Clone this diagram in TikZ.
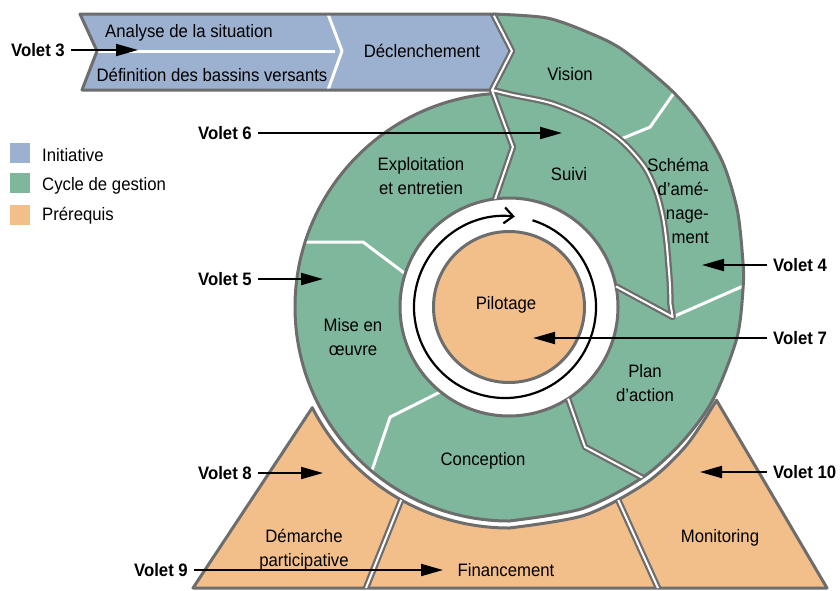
\documentclass[tikz,border=0pt]{standalone}
\usepackage{fontspec}
\setmainfont{Liberation Sans}[FakeStretch=0.93]
\usetikzlibrary{arrows.meta}
\definecolor{cblue}{HTML}{9CB0D0}
\definecolor{cgreen}{HTML}{7FB79D}
\definecolor{corange}{HTML}{F2BF8B}
\definecolor{cgray}{HTML}{6D6D6D}
\begin{document}
\begin{tikzpicture}[x=1pt, y=-1pt,
  ring/.style={shift={(509,307)}, x=1pt, y=1pt},
  lbl/.style={font=\fontsize{18}{24}\selectfont, inner sep=0pt, text height=13pt, text depth=4pt},
  lblm/.style={font=\fontsize{18}{24}\selectfont, inner sep=0pt, align=center},
  vol/.style={font=\fontsize{18}{24}\selectfont\bfseries, inner xsep=6pt, inner ysep=0pt, text height=13pt, text depth=0pt},
  ptr/.style={line width=2pt, -{Triangle[length=22pt,width=12pt]}},
  bord/.style={draw=cgray, line width=3pt, line join=round},
  dbl/.style={draw=cgray, line width=6.5pt, line join=round},
  dblcore/.style={draw=white, line width=2pt, line join=round},
  wsep/.style={draw=white, line width=3pt, line join=round},
  legbox/.style={minimum size=20pt, inner sep=0pt},
]
\useasboundingbox (0,0) rectangle (840,590);
\coordinate (T0) at (493,14);
\coordinate (P0) at (512,51);
\coordinate (B0) at (492,90);

% ---------- prerequisites (bottom) ----------
\begin{scope}[ring]
  \fill[corange] (-152.9:221) -- (-316,-281) -- (318,-281) -- (-24.2:227.5)
    -- plot[smooth] coordinates {(-24.2:227.5) (-38:225) (-52:223) (-70:221.5) (-90:221)}
    arc[start angle=-90, end angle=-152.9, radius=221] -- cycle;
  \draw[dbl] (-119.2:221) -- (-143,-281);
  \draw[dbl] (-60.5:221.8) -- (149,-281);
  \draw[bord] (-152.9:221) -- (-316,-281) -- (318,-281) -- (-24.2:227.5)
    -- plot[smooth] coordinates {(-24.2:227.5) (-38:225) (-52:223) (-70:221.5) (-90:221)}
    arc[start angle=-90, end angle=-152.9, radius=221] -- cycle;
  \draw[dblcore] (-119.2:221) -- (-143,-281);
  \draw[dblcore] (-60.5:221.8) -- (149,-281);
\end{scope}

% ---------- initiative band ----------
\fill[cblue] (80,14) -- (T0) -- (P0) -- (B0) -- (82,90) -- (97,51) -- cycle;

% ---------- management cycle ----------
\begin{scope}[ring]
  \fill[cgreen, even odd rule] (T0) -- plot[smooth] coordinates {(93.1:293.4) (82.5:291.5) (73.4:285.5) (66:281) (53.4:271) (43.9:265) (34:258) (23:248) (11.4:238.5) (4.9:235) (-7.7:230) (-24.5:224) (-38:219.5) (-52:216.5) (-70:214.5) (-90:214)}
    arc[start angle=-90, end angle=-265.5, radius=214] -- (B0) -- (P0) -- cycle
    (0,0) circle[radius=109];
  \fill[corange] (0,0) circle[radius=75.5];
  % white separators inside bands
  \draw[wsep] (57.1:198) -- (51.9:228.6) -- (52.4:272);
  \draw[wsep] (-3.5:164) -- (5.5:240);
  \draw[wsep] (-128.7:108) -- (-137.2:162) -- (-129.8:215);
  \draw[wsep] (162.4:108) -- (156:159.8) -- (162.4:215);
\end{scope}
\draw[wsep] (97,51) -- (335,51);
\draw[wsep] (328,14) -- (342,51) -- (328,90);

% double boundaries (gray part)
\begin{scope}[ring]
  \draw[dbl] (B0) -- (88.6:160) -- (97.3:109);
  \draw[dbl] (B0) -- plot[smooth] coordinates {(94.48:217.7) (88.9:212) (78:208) (66:204) (55.7:200.5) (46:195) (38:187) (30:178) (22:170) (15:165) (8:162.5) (1:161.5)} -- (-3.5:164) -- (10.9:109);
  \draw[dbl] (-57.2:109) -- (-61.5:159.3) -- (-52:216.5);
  \draw[dbl] (T0) -- (P0) -- (B0);
\end{scope}

% outer borders
\draw[bord] (80,14) -- (T0) -- (P0) -- (B0) -- (82,90) -- (97,51) -- cycle;
\begin{scope}[ring]
  \draw[bord] (T0) -- plot[smooth] coordinates {(93.1:293.4) (82.5:291.5) (73.4:285.5) (66:281) (53.4:271) (43.9:265) (34:258) (23:248) (11.4:238.5) (4.9:235) (-7.7:230) (-24.5:224) (-38:219.5) (-52:216.5) (-70:214.5) (-90:214)}
    arc[start angle=-90, end angle=-265.5, radius=214] -- (B0);
  \draw[bord] (0,0) circle[radius=109];
  \draw[bord] (0,0) circle[radius=75.5];
  % white cores
  \draw[dblcore] (B0) -- (88.6:160) -- (97.3:109);
  \draw[dblcore] (B0) -- plot[smooth] coordinates {(94.48:217.7) (88.9:212) (78:208) (66:204) (55.7:200.5) (46:195) (38:187) (30:178) (22:170) (15:165) (8:162.5) (1:161.5)} -- (-3.5:164) -- (10.9:109);
  \draw[dblcore] (-57.2:109) -- (-61.5:159.3) -- (-52:216.5);
  \draw[dblcore, shorten <=2pt] (T0) -- (P0) -- (B0);
\end{scope}

% circular arrow
\begin{scope}[ring, shift={(-4,0)}]
  \draw[line width=2.2pt, -{Straight Barb[length=9pt,width=16pt]}] (72.4:91) arc[start angle=72.4, end angle=-276.2, radius=91];
\end{scope}

% ---------- texts ----------
\node[lbl] (analyse) at (189,32.5) {Analyse de la situation};
\node[lbl] (defin) at (212,76.5) {Définition des bassins versants};
\node[lbl] (decl) at (422,52.5) {Déclenchement};
\node[lbl] (vision) at (570,75.5) {Vision};
\node[lbl] (suivi) at (569,175.5) {Suivi};
\node[lblm, anchor=east, align=right] (schema) at (709,201) {Schéma\\d’amé-\\nage-\\ment};
\node[lblm] (exploit) at (421,176.5) {Exploitation\\et entretien};
\node[lblm] (mise) at (353,337.5) {Mise en\\œuvre};
\node[lbl] (pilot) at (506,304.5) {Pilotage};
\node[lblm] (plan) at (645,383.5) {Plan\\d’action};
\node[lbl] (concep) at (483,460.5) {Conception};
\node[lblm] (demarche) at (304,550) {Démarche\\participative};
\node[lbl] (financ) at (506,571.5) {Financement};
\node[lbl] (monit) at (720,537.5) {Monitoring};

% ---------- legend ----------
\node[legbox, fill=cblue] (lg1) at (20,153) {};
\node[legbox, fill=cgreen] (lg2) at (20,183) {};
\node[legbox, fill=corange] (lg3) at (20,215) {};
\node[lbl, anchor=west, text depth=0pt] (lg1t) at (42,155) {Initiative};
\node[lbl, anchor=west, text depth=0pt] (lg2t) at (42,184) {Cycle de gestion};
\node[lbl, anchor=west, text depth=0pt] (lg3t) at (42,214) {Prérequis};

% ---------- volets ----------
\node[vol, anchor=east] (v3) at (71,50) {Volet 3};
\node[vol, anchor=east] (v6) at (258,133) {Volet 6};
\node[vol, anchor=east] (v5) at (258,279) {Volet 5};
\node[vol, anchor=east] (v8) at (258,473) {Volet 8};
\node[vol, anchor=east] (v9) at (194,570) {Volet 9};
\node[vol, anchor=west] (v4) at (767,265) {Volet 4};
\node[vol, anchor=west] (v7) at (767,338) {Volet 7};
\node[vol, anchor=west] (v10) at (767,472) {Volet 10};
\coordinate (v3t) at (138,50);
\coordinate (v6t) at (562,133);
\coordinate (v5t) at (323,279);
\coordinate (v8t) at (323,473);
\coordinate (v9t) at (443,570);
\coordinate (v4t) at (702,265);
\coordinate (v7t) at (533,338);
\coordinate (v10t) at (700,472);
\draw[ptr] (v3) -- (v3t);
\draw[ptr] (v6) -- (v6t);
\draw[ptr] (v5) -- (v5t);
\draw[ptr] (v8) -- (v8t);
\draw[ptr] (v9) -- (v9t);
\draw[ptr] (v4) -- (v4t);
\draw[ptr] (v7) -- (v7t);
\draw[ptr] (v10) -- (v10t);
\end{tikzpicture}
\end{document}
